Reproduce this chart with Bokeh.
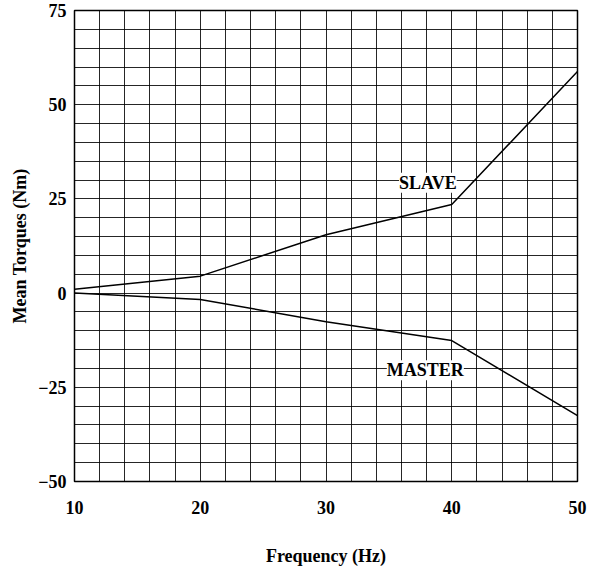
from bokeh.plotting import figure
from bokeh.models import FixedTicker, SingleIntervalTicker, Label
from bokeh.embed import file_html
from bokeh.resources import INLINE

frequency = [10, 20, 30, 40, 50]
slave = [1.0, 4.5, 15.5, 23.5, 58.8]
master = [0.0, -1.7, -7.6, -12.6, -32.5]
x_ticks = [10, 20, 30, 40, 50]
y_ticks = [-50, -25, 0, 25, 50, 75]

FONT = "Liberation Serif"

p = figure(width=593, height=568, x_range=(10, 50), y_range=(-50, 75),
           output_backend="svg", toolbar_location=None,
           min_border_left=74, min_border_right=16, min_border_top=10,
           min_border_bottom=87)

p.background_fill_color = "white"
p.border_fill_color = "white"
p.outline_line_color = "black"
p.outline_line_width = 1.5

p.xgrid.ticker = SingleIntervalTicker(interval=2)
p.ygrid.ticker = SingleIntervalTicker(interval=5)
for g in (p.xgrid, p.ygrid):
    g.grid_line_color = "black"
    g.grid_line_width = 1
    g.grid_line_alpha = 0.85

p.xaxis.ticker = FixedTicker(ticks=x_ticks)
p.yaxis.ticker = FixedTicker(ticks=y_ticks)
for ax in (p.xaxis, p.yaxis):
    ax.axis_line_color = None
    ax.major_tick_line_color = None
    ax.minor_tick_line_color = None
    ax.major_label_text_font = FONT
    ax.major_label_text_font_style = "bold"
    ax.major_label_text_font_size = "18px"
    ax.major_label_text_color = "black"
    ax.axis_label_text_font = FONT
    ax.axis_label_text_font_style = "bold"
    ax.axis_label_text_font_size = "18px"
    ax.axis_label_text_color = "black"

p.xaxis.axis_label = "Frequency (Hz)"
p.yaxis.axis_label = "Mean Torques (Nm)"
p.xaxis.major_label_standoff = 13
p.yaxis.major_label_standoff = 2
p.xaxis.axis_label_standoff = 29
p.yaxis.axis_label_standoff = 5

p.line(frequency, slave, line_color="black", line_width=1.5)
p.line(frequency, master, line_color="black", line_width=1.5)

for txt, lx, ly in (("SLAVE", 38.1, 29.3), ("MASTER", 37.9, -20.5)):
    p.add_layout(Label(x=lx, y=ly, text=txt, text_align="center",
                       text_baseline="middle", text_font=FONT,
                       text_font_style="bold", text_font_size="18px",
                       text_color="black", background_fill_color="white"))

open("out.html", "w").write(file_html(p, INLINE))
